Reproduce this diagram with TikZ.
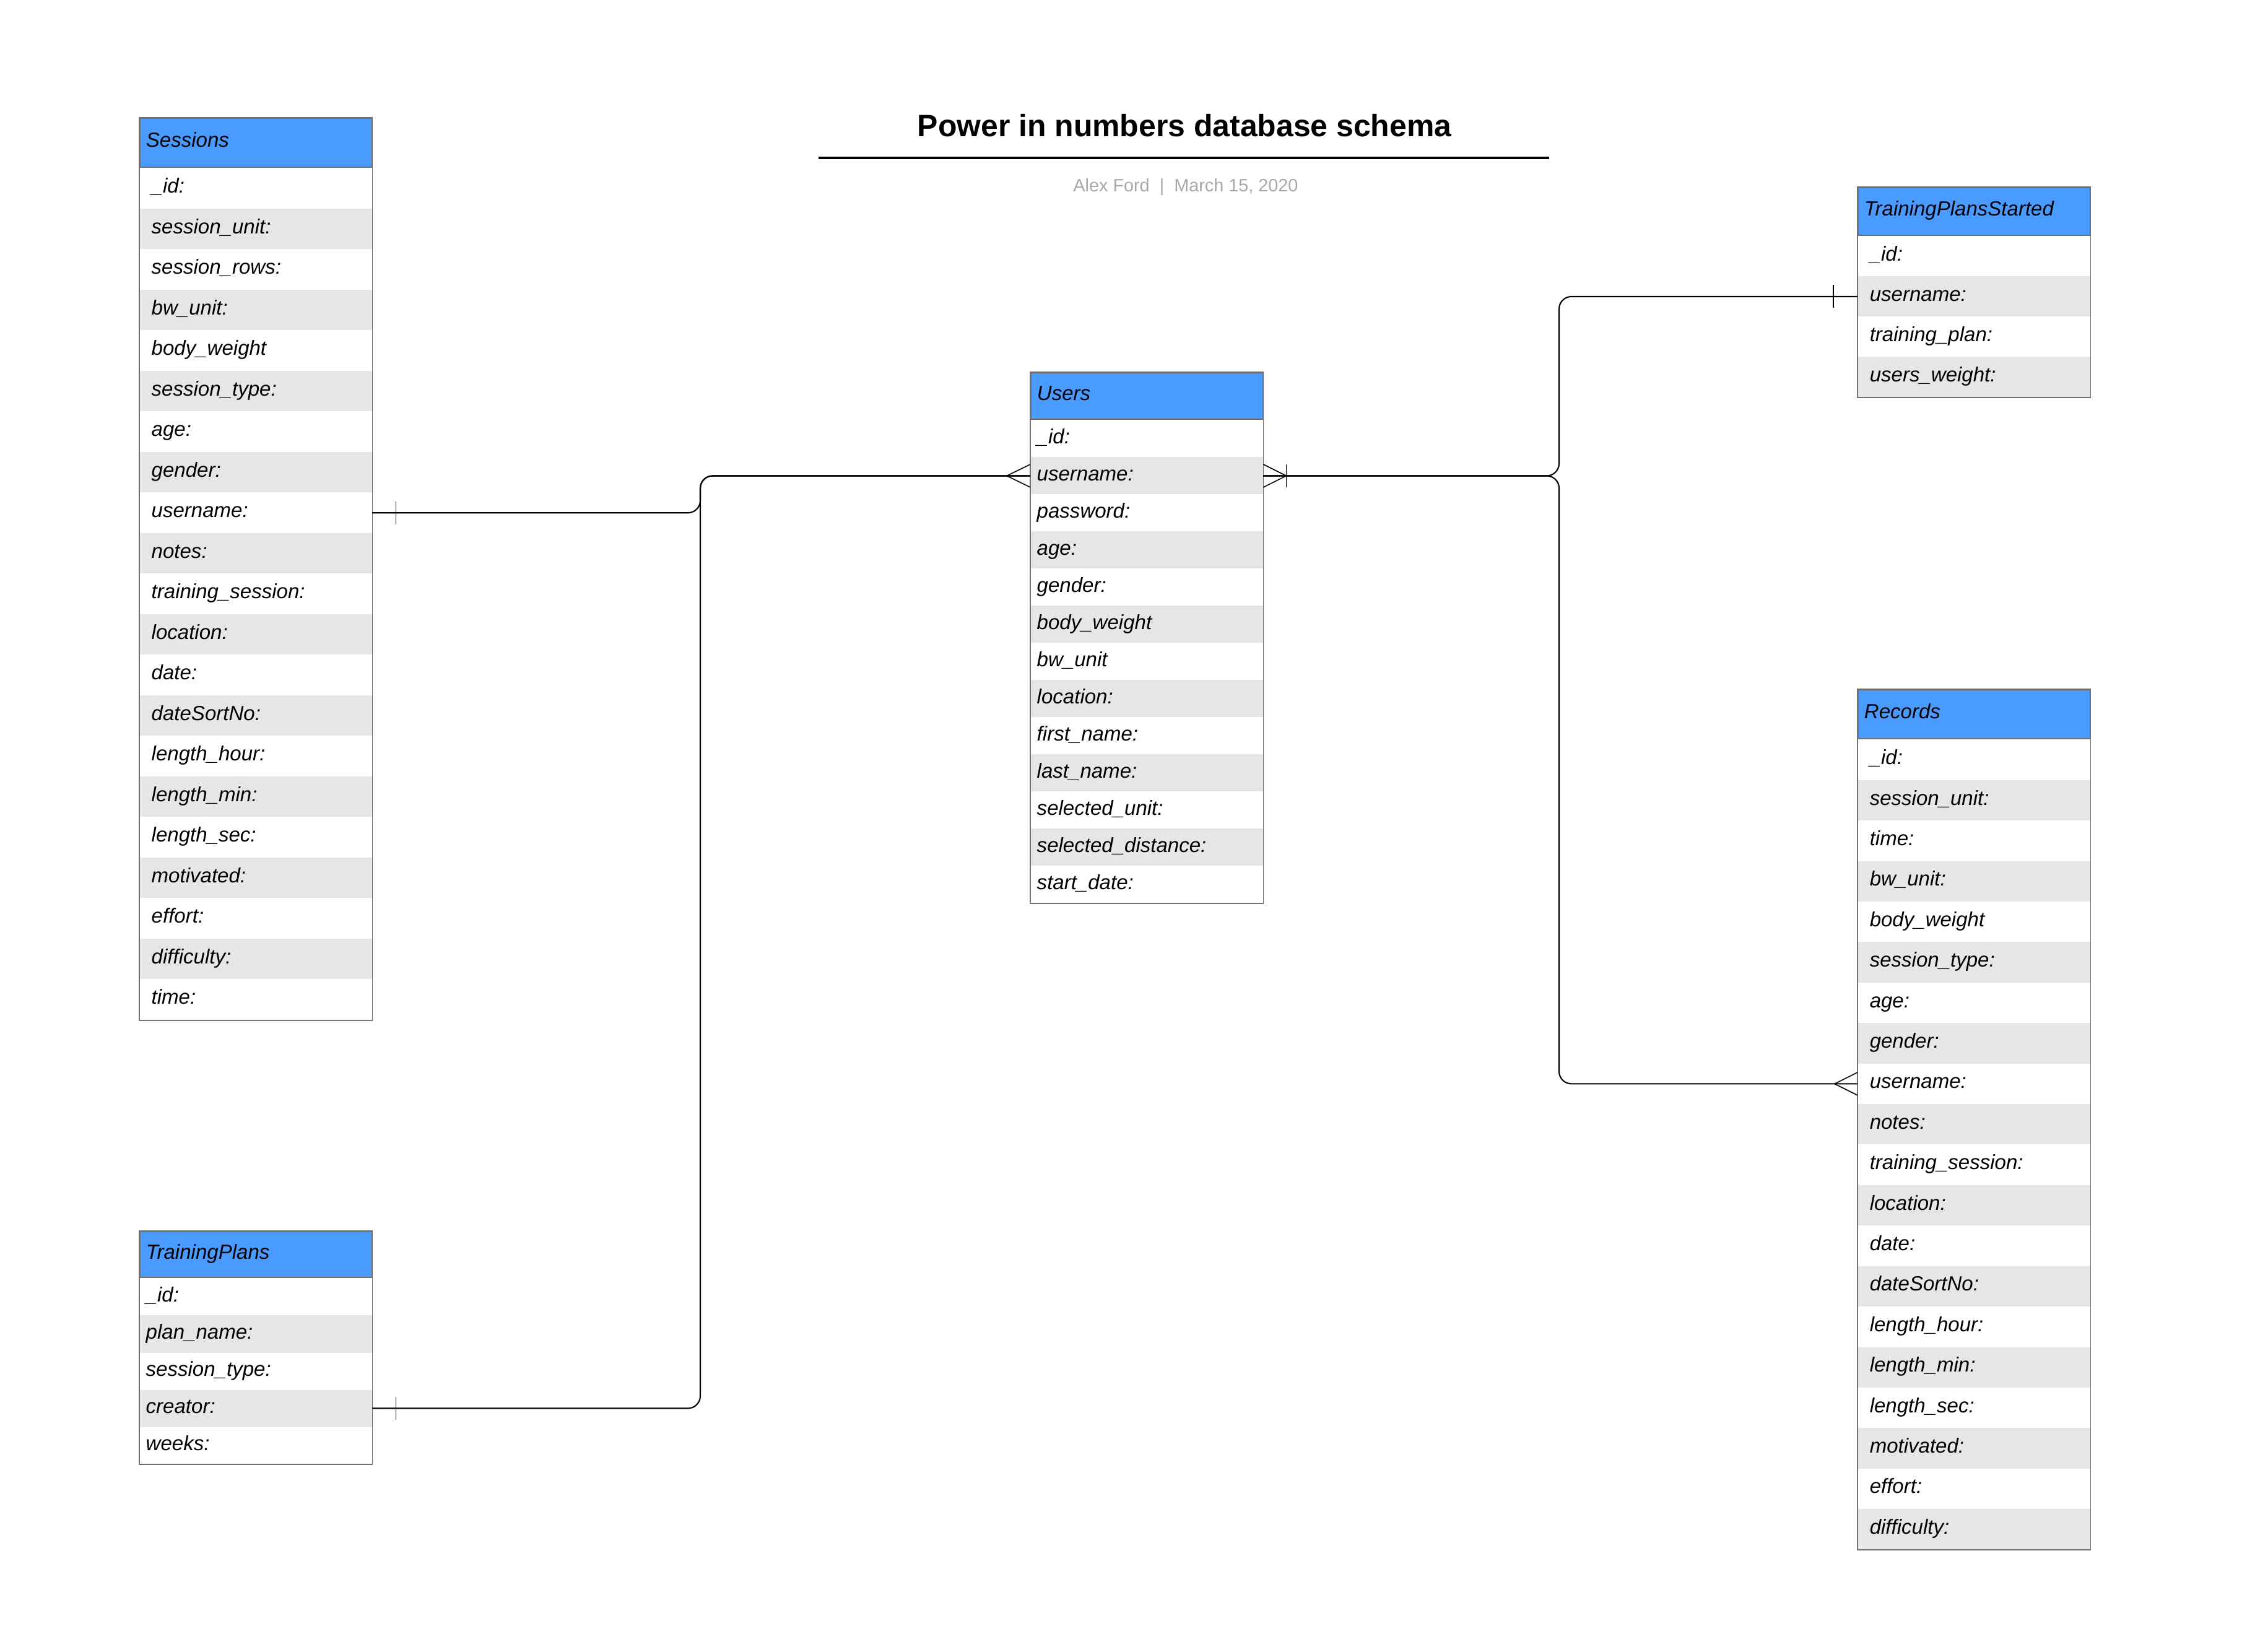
\documentclass[tikz,border=0pt]{standalone}
\usepackage{fontspec}
\setmainfont{Liberation Sans}
\usetikzlibrary{positioning, calc}
\definecolor{colHead}{HTML}{4A9BFF}
\definecolor{colRow}{HTML}{E6E6E6}
\definecolor{colBorder}{HTML}{707070}
\definecolor{colSub}{HTML}{A8A8A8}

\begin{document}
\begin{tikzpicture}[
  font=\itshape\fontsize{9.4}{11.3}\selectfont,
  every node/.style={inner ysep=0pt},
  tblhead/.style={
    draw=colBorder, line width=0.5pt, fill=colHead, anchor=north west,
    minimum width=3.75cm, text width=3.55cm, inner xsep=0.1cm, align=left,
    text height=6.4pt, text depth=2.1pt
  },
  tblrow/.style={
    fill=#1, anchor=north west,
    minimum width=3.75cm, text width=3.55cm, inner xsep=0.1cm, align=left,
    text height=6.4pt, text depth=2.1pt
  },
  padwide/.style={text width=3.37cm, inner xsep=0.19cm},
  tblborder/.style={draw=colBorder, line width=0.5pt},
  link/.style={draw=black, line width=0.6pt, rounded corners=0.2cm},
  foot/.style={draw=black, line width=0.45pt},
]
\useasboundingbox (0,0) rectangle (36.21,-26.67);

%% ============================================================
%% Title
%% ============================================================
\node[font=\bfseries\fontsize{14.2}{17}\selectfont, anchor=base]
  (title) at (19.13,-2.20) {Power in numbers database schema};
\draw[line width=1pt] ($(title.base)+(-5.91,-0.35)$) -- ++(11.80,0);
\node[font=\fontsize{8.2}{10}\selectfont, text=colSub, anchor=base]
  (byline) at (19.15,-3.09) {Alex Ford~~|~~March 15, 2020};

%% ============================================================
%% Sessions
%% ============================================================
\node[tblhead, minimum height=0.79cm] (ses) at (2.25,-1.90) {Sessions};
\foreach \f [count=\i] in {\_id:, session\_unit:, session\_rows:, bw\_unit:,
    body\_weight, session\_type:, age:, gender:, username:, notes:,
    training\_session:, location:, date:, dateSortNo:, length\_hour:,
    length\_min:, length\_sec:, motivated:, effort:, difficulty:, time:} {
  \ifodd\i\relax \def\rowfill{white}\else \def\rowfill{colRow}\fi
  \node[tblrow=\rowfill, padwide, minimum height=0.655cm]
    (ses\i) at ($(ses.south west)+(0,-\i*0.655+0.655)$) {\f};
}
\draw[tblborder] (ses.north west) rectangle (ses21.south east);

%% ============================================================
%% TrainingPlans
%% ============================================================
\node[tblhead, minimum height=0.74cm] (tp) at (2.25,-19.88) {TrainingPlans};
\foreach \f [count=\i] in {\_id:, plan\_name:, session\_type:, creator:, weeks:} {
  \ifodd\i\relax \def\rowfill{white}\else \def\rowfill{colRow}\fi
  \node[tblrow=\rowfill, minimum height=0.60cm]
    (tp\i) at ($(tp.south west)+(0,-\i*0.60+0.60)$) {\f};
}
\draw[tblborder] (tp.north west) rectangle (tp5.south east);

%% ============================================================
%% Users
%% ============================================================
\node[tblhead, minimum height=0.75cm] (usr) at (16.64,-6.01) {Users};
\foreach \f [count=\i] in {\_id:, username:, password:, age:, gender:,
    body\_weight, bw\_unit, location:, first\_name:, last\_name:,
    selected\_unit:, selected\_distance:, start\_date:} {
  \ifodd\i\relax \def\rowfill{white}\else \def\rowfill{colRow}\fi
  \node[tblrow=\rowfill, minimum height=0.60cm]
    (usr\i) at ($(usr.south west)+(0,-\i*0.60+0.60)$) {\f};
}
\draw[tblborder] (usr.north west) rectangle (usr13.south east);

%% ============================================================
%% TrainingPlansStarted
%% ============================================================
\node[tblhead, minimum height=0.77cm] (tps) at (30.00,-3.02) {TrainingPlansStarted};
\foreach \f [count=\i] in {\_id:, username:, training\_plan:, users\_weight:} {
  \ifodd\i\relax \def\rowfill{white}\else \def\rowfill{colRow}\fi
  \node[tblrow=\rowfill, padwide, minimum height=0.65cm]
    (tps\i) at ($(tps.south west)+(0,-\i*0.65+0.65)$) {\f};
}
\draw[tblborder] (tps.north west) rectangle (tps4.south east);

%% ============================================================
%% Records
%% ============================================================
\node[tblhead, minimum height=0.79cm] (rec) at (30.00,-11.13) {Records};
\foreach \f [count=\i] in {\_id:, session\_unit:, time:, bw\_unit:,
    body\_weight, session\_type:, age:, gender:, username:, notes:,
    training\_session:, location:, date:, dateSortNo:, length\_hour:,
    length\_min:, length\_sec:, motivated:, effort:, difficulty:} {
  \ifodd\i\relax \def\rowfill{white}\else \def\rowfill{colRow}\fi
  \node[tblrow=\rowfill, padwide, minimum height=0.654cm]
    (rec\i) at ($(rec.south west)+(0,-\i*0.654+0.654)$) {\f};
}
\draw[tblborder] (rec.north west) rectangle (rec20.south east);

%% ============================================================
%% Relations on username
%% ============================================================
\coordinate (busL) at (11.31,0);
\coordinate (busR) at (25.18,0);

\draw[link] (ses9.east) -- (ses9.east -| busL) |- (usr2.west);
\draw[link] (tp4.east) -- (tp4.east -| busL) |- (usr2.west);
\draw[link] (usr2.east) -- (usr2.east -| busR) |- (tps2.west);
\draw[link] (usr2.east) -- (usr2.east -| busR) |- (rec9.west);

% one side
\draw[foot] ([xshift=0.38cm]ses9.east) ++(0,0.185) -- ++(0,-0.37);
\draw[foot] ([xshift=0.38cm]tp4.east) ++(0,0.185) -- ++(0,-0.37);
\draw[foot] ([xshift=-0.39cm]tps2.west) ++(0,0.185) -- ++(0,-0.37);

% many side
\draw[foot] ([yshift=0.185cm]usr2.west) -- ([xshift=-0.38cm]usr2.west)
  -- ([yshift=-0.185cm]usr2.west);
\draw[foot] ([yshift=0.185cm]usr2.east) -- ([xshift=0.37cm]usr2.east)
  -- ([yshift=-0.185cm]usr2.east);
\draw[foot] ([xshift=0.37cm]usr2.east) ++(0,0.185) -- ++(0,-0.37);
\draw[foot] ([yshift=0.185cm]rec9.west) -- ([xshift=-0.37cm]rec9.west)
  -- ([yshift=-0.185cm]rec9.west);

\end{tikzpicture}
\end{document}
